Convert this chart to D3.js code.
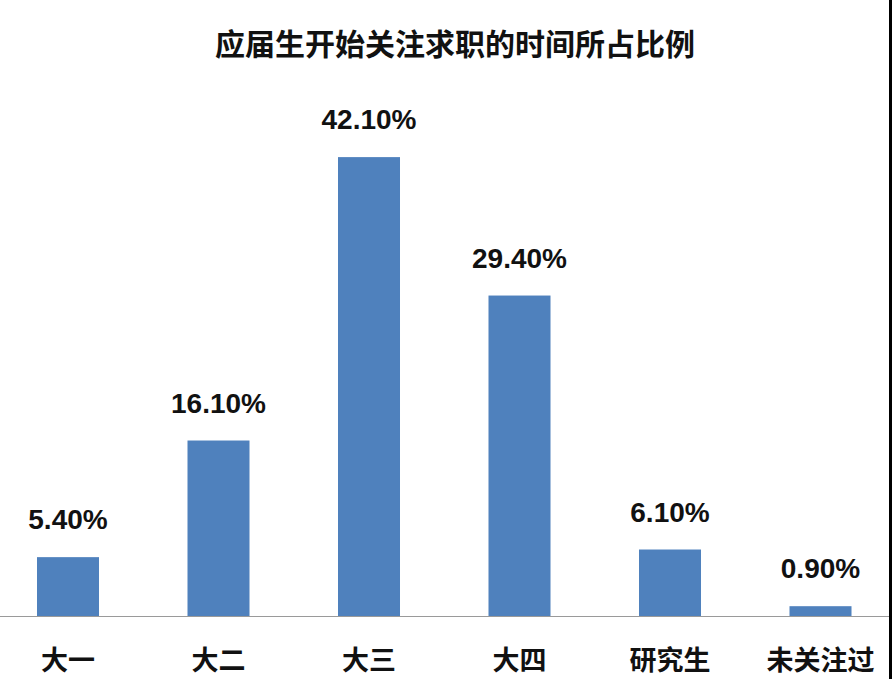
<!DOCTYPE html>
<meta charset="utf-8">
<style>
  body { margin: 0; background: #fff; }
</style>
<script src="https://d3js.org/d3.v7.min.js"></script>
<div id="chart"></div>
<script>

// data
var categories = ["大一", "大二", "大三", "大四", "研究生", "未关注过"];
var values = [5.4, 16.1, 42.1, 29.4, 6.1, 0.9];
var valueLabels = ["5.40%", "16.10%", "42.10%", "29.40%", "6.10%", "0.90%"];
var title = "应届生开始关注求职的时间所占比例";

var width = 892, height = 679,
    baseY = 616;

var svg = d3.select("#chart")
  .append("svg")
    .attr("width", width)
    .attr("height", height);

svg.append("rect")
  .attr("width", width).attr("height", height)
  .attr("fill", "#fff");

// x: one band per category
var x = d3.scaleBand()
  .domain(categories)
  .range([-7.25, 895.75])
  .paddingInner(0.588)
  .paddingOuter(0.294);

// y: percent
var y = d3.scaleLinear()
  .domain([0, 45])
  .range([baseY, baseY - 45 * 10.9]);

var rows = categories.map(function(c, i) {
  return {cat: c, val: values[i], label: valueLabels[i]};
});

// bars
svg.selectAll("rect.bar")
  .data(rows)
  .enter()
  .append("rect")
    .attr("class", "bar")
    .attr("x", function(d) { return x(d.cat); })
    .attr("width", x.bandwidth())
    .attr("y", function(d) { return y(d.val); })
    .attr("height", function(d) { return baseY - y(d.val); })
    .attr("fill", "#4F81BD");

// value labels above bars
svg.selectAll("text.val")
  .data(rows)
  .enter()
  .append("text")
    .attr("class", "val")
    .attr("x", function(d) { return x(d.cat) + x.bandwidth() / 2; })
    .attr("y", function(d) { return y(d.val) - 28; })
    .attr("text-anchor", "middle")
    .style("font-family", "'Liberation Sans', Arial, sans-serif")
    .style("font-weight", "bold")
    .style("font-size", "28px")
    .style("fill", "#111")
    .text(function(d) { return d.label; });

// baseline
svg.append("line")
  .attr("x1", 0).attr("x2", 889)
  .attr("y1", baseY + 0.5).attr("y2", baseY + 0.5)
  .attr("stroke", "#9a9a9a")
  .attr("stroke-width", 1.2);

// category axis
var xAxis = svg.append("g")
  .attr("transform", "translate(0," + baseY + ")")
  .call(d3.axisBottom(x).tickSize(0).tickPadding(0));
xAxis.select(".domain").remove();
xAxis.selectAll("text")
  .attr("y", 54)
  .attr("dy", null)
  .style("font-family", "'Noto Sans CJK SC', sans-serif")
  .style("font-weight", "bold")
  .style("font-size", "27px")
  .style("fill", "#111");

// title
svg.append("text")
  .attr("x", 455)
  .attr("y", 55)
  .attr("text-anchor", "middle")
  .style("font-family", "'Noto Sans CJK SC', sans-serif")
  .style("font-weight", "bold")
  .style("font-size", "30px")
  .style("fill", "#111")
  .text(title);

// dark strip on the right edge of the picture
svg.append("rect")
  .attr("x", 889).attr("y", 0)
  .attr("width", 3).attr("height", height)
  .attr("fill", "#000");

</script>
